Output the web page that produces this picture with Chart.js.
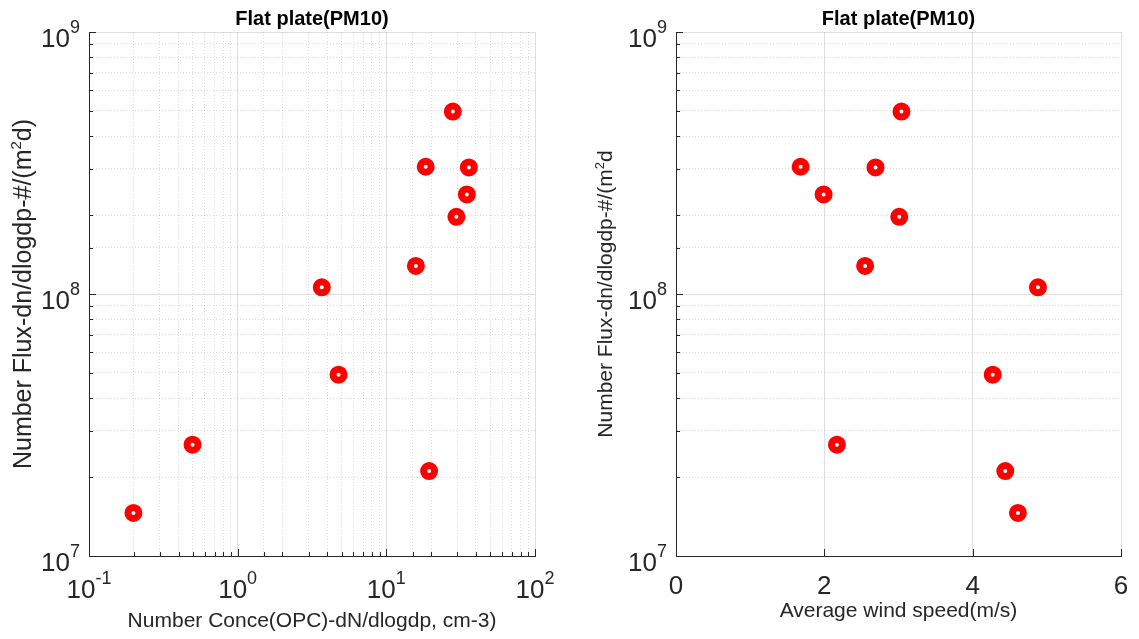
<!DOCTYPE html>
<html>
<head>
<meta charset="utf-8">
<script src="https://cdn.jsdelivr.net/npm/chart.js@4.4.1/dist/chart.umd.min.js"></script>
<style>
html,body{margin:0;padding:0;background:#fff;overflow:hidden}
#wrap{position:relative;width:1139px;height:639px;background:#fff}
canvas{position:absolute;top:0}
</style>
</head>
<body>
<div id="wrap">
<canvas id="c1" width="570" height="639" style="left:0px"></canvas>
<canvas id="c2" width="569" height="639" style="left:570px"></canvas>
</div>
<script>
// ---- data ----
const flux = [1.46e7, 2.11e7, 2.66e7, 4.92e7, 1.06e8, 1.28e8, 1.97e8, 2.40e8, 3.06e8, 3.04e8, 4.97e8];
const conc = [0.199, 19.4, 0.497, 4.77, 3.68, 15.8, 29.6, 34.8, 18.4, 35.9, 28.0];
const wind = [4.61, 4.44, 2.17, 4.27, 4.88, 2.55, 3.01, 1.99, 1.68, 2.69, 3.04];

const chartTitle = 'Flat plate(PM10)';
const xTitleLeft = 'Number Conce(OPC)-dN/dlogdp, cm-3)';
const xTitleRight = 'Average wind speed(m/s)';
const yTitleLeft = ['Number Flux-dn/dlogdp-#/(m', '2', 'd)'];
const yTitleRight = ['Number Flux-dn/dlogdp-#/(m', '2', 'd'];

const yTickValues = [1e7, 1e8, 1e9];
const yTickExps = ['7', '8', '9'];
const concTickValues = [0.1, 1, 10, 100];
const concTickExps = ['-1', '0', '1', '2'];
const windTickValues = [0, 2, 4, 6];
const windTickLabels = ['0', '2', '4', '6'];

// ---- styling ----
const TEXT = '#262626';
const FONT = '"Liberation Sans", Arial, Helvetica, sans-serif';
const isPow10 = v => v > 0 && Math.abs(Math.log10(v) - Math.round(Math.log10(v))) < 1e-6;
const MAJOR_GRID = 'rgba(38,38,38,0.15)';
const MINOR_GRID = 'rgba(38,38,38,0.16)';

function gridColor(isLog) {
  return c => (!isLog || !c.tick || isPow10(c.tick.value)) ? MAJOR_GRID : MINOR_GRID;
}
function gridDash(isLog) {
  return c => (!c.tick || !isLog || isPow10(c.tick.value)) ? [] : [1, 2];
}

function makeDeco(cfg) {
  return {
    id: 'deco',
    afterDraw(chart) {
      const ctx = chart.ctx, a = chart.chartArea;
      const xs = chart.scales.x, ys = chart.scales.y;
      ctx.save();
      // inward tick marks
      ctx.strokeStyle = TEXT; ctx.lineWidth = 1; ctx.setLineDash([]);
      ctx.beginPath();
      ys.ticks.forEach(t => {
        const p = Math.round(ys.getPixelForValue(t.value)) + 0.5;
        const len = isPow10(t.value) ? 7 : 4;
        ctx.moveTo(a.left, p); ctx.lineTo(a.left + len, p);
      });
      xs.ticks.forEach(t => {
        const p = Math.round(xs.getPixelForValue(t.value)) + 0.5;
        const len = (!cfg.xLog || isPow10(t.value)) ? 7 : 4;
        ctx.moveTo(p, a.bottom); ctx.lineTo(p, a.bottom - len);
      });
      ctx.stroke();

      ctx.fillStyle = TEXT;
      ctx.textBaseline = 'alphabetic';
      ctx.textAlign = 'left';
      const baseF = '26px ' + FONT, supF = '18px ' + FONT;
      // y tick labels 10^n
      yTickValues.forEach((v, i) => {
        const p = ys.getPixelForValue(v);
        ctx.font = baseF; const w1 = ctx.measureText('10').width;
        ctx.font = supF; const w2 = ctx.measureText(yTickExps[i]).width;
        const x0 = a.left - 9 - w1 - w2;
        ctx.font = baseF; ctx.fillText('10', x0, p + 15);
        ctx.font = supF; ctx.fillText(yTickExps[i], x0 + w1, p + 0.5);
      });
      // x tick labels
      if (cfg.xLog) {
        concTickValues.forEach((v, i) => {
          const p = xs.getPixelForValue(v);
          ctx.font = baseF; const w1 = ctx.measureText('10').width;
          ctx.font = supF; const w2 = ctx.measureText(concTickExps[i]).width;
          const x0 = p - (w1 + w2) / 2;
          ctx.font = baseF; ctx.fillText('10', x0, a.bottom + 42);
          ctx.font = supF; ctx.fillText(concTickExps[i], x0 + w1, a.bottom + 27.5);
        });
      } else {
        ctx.font = baseF; ctx.textAlign = 'center';
        windTickValues.forEach((v, i) => {
          ctx.fillText(windTickLabels[i], xs.getPixelForValue(v), a.bottom + 38);
        });
      }
      // title
      const cx = (a.left + a.right) / 2;
      ctx.textAlign = 'center';
      ctx.fillStyle = '#000';
      ctx.font = 'bold 20px ' + FONT;
      ctx.fillText(chartTitle, cx, 25);
      // x axis title
      ctx.fillStyle = TEXT;
      ctx.font = '21px ' + FONT;
      ctx.fillText(cfg.xTitle, cx, cfg.xTitleY);
      // y axis title (rotated, with superscript)
      const parts = cfg.yTitle;
      const mainF = cfg.yTitleSize + 'px ' + FONT, ySupF = Math.round(cfg.yTitleSize * 0.6) + 'px ' + FONT;
      ctx.font = mainF; const p0 = ctx.measureText(parts[0]).width, p2 = ctx.measureText(parts[2]).width;
      ctx.font = ySupF; const p1 = ctx.measureText(parts[1]).width;
      const total = p0 + p1 + p2;
      const cy = (a.top + a.bottom) / 2;
      ctx.save();
      ctx.translate(cfg.yTitleX, cy);
      ctx.rotate(-Math.PI / 2);
      ctx.textAlign = 'left';
      let s = -total / 2;
      ctx.font = mainF; ctx.fillText(parts[0], s, 0); s += p0;
      ctx.font = ySupF; ctx.fillText(parts[1], s, -cfg.yTitleSize * 0.4); s += p1;
      ctx.font = mainF; ctx.fillText(parts[2], s, 0);
      ctx.restore();
      ctx.restore();
    }
  };
}

function makeChart(id, xData, cfg) {
  const pts = xData.map((v, i) => ({ x: v, y: flux[i] }));
  const xScale = cfg.xLog
    ? { type: 'logarithmic', min: 0.1, max: 100 }
    : { type: 'linear', min: 0, max: 6, ticks: { stepSize: 2 } };
  return new Chart(document.getElementById(id), {
    type: 'scatter',
    data: {
      datasets: [{
        data: pts,
        backgroundColor: '#ffffff',
        borderColor: '#ff0000',
        borderWidth: 7,
        pointRadius: 5.5,
        pointHoverRadius: 5.5,
        pointHoverBorderWidth: 7,
        clip: false
      }]
    },
    options: {
      responsive: false,
      animation: false,
      events: [],
      layout: { autoPadding: false, padding: { left: 0, top: 32, right: cfg.padRight, bottom: 0 } },
      plugins: { legend: { display: false }, tooltip: { enabled: false }, title: { display: false } },
      scales: {
        x: Object.assign(xScale, {
          position: 'bottom',
          afterFit: s => { s.height = 83; },
          ticks: Object.assign({ display: false, autoSkip: false }, xScale.ticks || {}),
          grid: { color: gridColor(cfg.xLog), lineWidth: 1, drawTicks: false },
          border: { display: true, color: TEXT, width: 1, dash: gridDash(cfg.xLog) }
        }),
        y: {
          type: 'logarithmic', min: 1e7, max: 1e9, position: 'left',
          afterFit: s => { s.width = cfg.yAxisWidth; },
          ticks: { display: false, autoSkip: false },
          grid: { color: gridColor(true), lineWidth: 1, drawTicks: false },
          border: { display: true, color: TEXT, width: 1, dash: gridDash(true) }
        }
      }
    },
    plugins: [makeDeco(cfg)]
  });
}

makeChart('c1', conc, { xLog: true, padRight: 35, yAxisWidth: 89, xTitle: xTitleLeft, xTitleY: 627, yTitle: yTitleLeft, yTitleSize: 25, yTitleX: 31 });
makeChart('c2', wind, { xLog: false, padRight: 18, yAxisWidth: 106, xTitle: xTitleRight, xTitleY: 617, yTitle: yTitleRight, yTitleSize: 21, yTitleX: 42 });
</script>
</body>
</html>
